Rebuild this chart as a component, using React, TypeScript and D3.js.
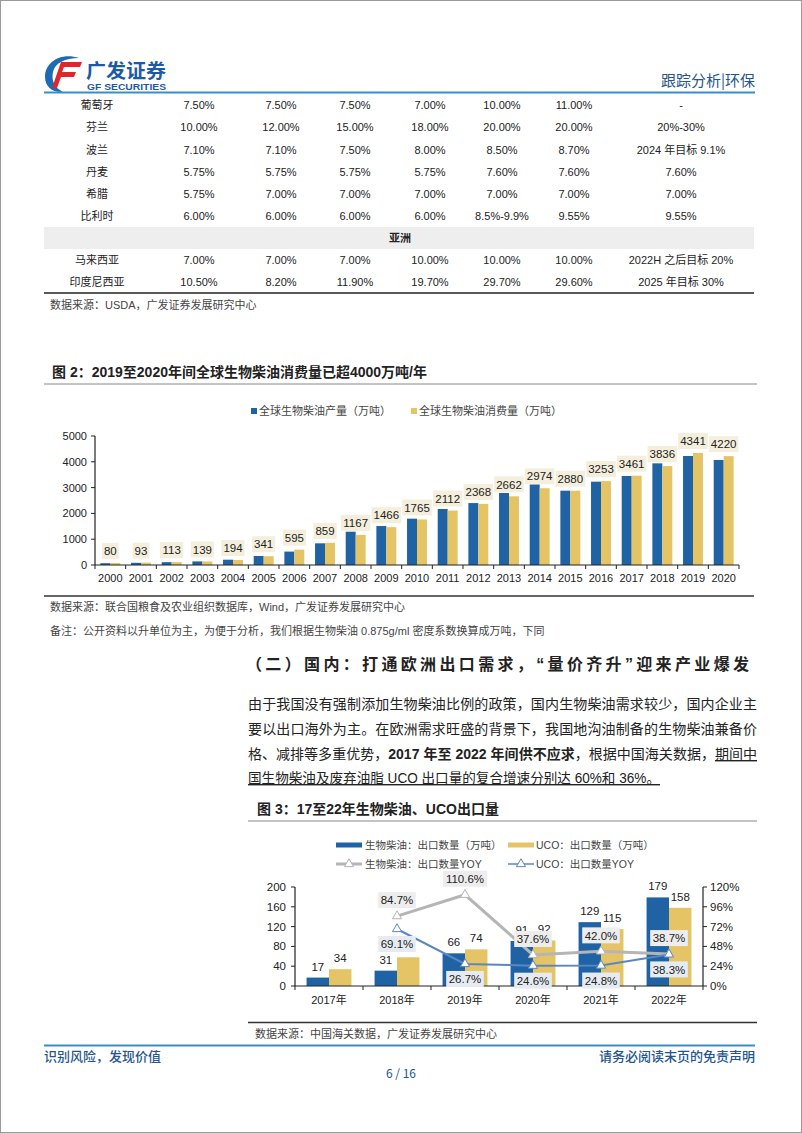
import React from 'react';
import * as d3 from 'd3';

const FONT = '"Liberation Sans", Arial, "Noto Sans CJK SC", sans-serif';
const CJK = '"Noto Sans CJK SC", "Liberation Sans", sans-serif';

// ---------- Table data ----------
const europeRows: string[][] = [
  ['葡萄牙', '7.50%', '7.50%', '7.50%', '7.00%', '10.00%', '11.00%', '-'],
  ['芬兰', '10.00%', '12.00%', '15.00%', '18.00%', '20.00%', '20.00%', '20%-30%'],
  ['波兰', '7.10%', '7.10%', '7.50%', '8.00%', '8.50%', '8.70%', '2024 年目标 9.1%'],
  ['丹麦', '5.75%', '5.75%', '5.75%', '5.75%', '7.60%', '7.60%', '7.60%'],
  ['希腊', '5.75%', '7.00%', '7.00%', '7.00%', '7.00%', '7.00%', '7.00%'],
  ['比利时', '6.00%', '6.00%', '6.00%', '6.00%', '8.5%-9.9%', '9.55%', '9.55%'],
];
const asiaHeader = '亚洲';
const asiaRows: string[][] = [
  ['马来西亚', '7.00%', '7.00%', '7.00%', '10.00%', '10.00%', '10.00%', '2022H 之后目标 20%'],
  ['印度尼西亚', '10.50%', '8.20%', '11.90%', '19.70%', '29.70%', '29.60%', '2025 年目标 30%'],
];

// ---------- Chart 2 data ----------
const years2 = ['2000', '2001', '2002', '2003', '2004', '2005', '2006', '2007', '2008', '2009', '2010',
  '2011', '2012', '2013', '2014', '2015', '2016', '2017', '2018', '2019', '2020'];
const production2 = [70, 85, 110, 140, 205, 350, 520, 840, 1290, 1510, 1795, 2170, 2400, 2790, 3125, 2880, 3230, 3450, 3940, 4225, 4070];
const consumption2 = [80, 93, 113, 139, 194, 341, 595, 859, 1167, 1466, 1765, 2112, 2368, 2662, 2974, 2880, 3253, 3461, 3836, 4341, 4220];
const yTicks2 = [0, 1000, 2000, 3000, 4000, 5000];
const legend2 = ['全球生物柴油产量（万吨）', '全球生物柴油消费量（万吨）'];

// ---------- Chart 3 data ----------
const cats3 = ['2017年', '2018年', '2019年', '2020年', '2021年', '2022年'];
const bioExport = [17, 31, 66, 91, 129, 179];
const ucoExport = [34, 58, 74, 92, 115, 158];
const bioYoy: (number | null)[] = [null, 84.7, 110.6, 37.6, 42.0, 38.7];
const ucoYoy: (number | null)[] = [null, 69.1, 26.7, 24.6, 24.8, 38.3];
const yTicks3L = [0, 40, 80, 120, 160, 200];
const yTicks3R = [0, 24, 48, 72, 96, 120];
const legend3 = ['生物柴油：出口数量（万吨）', 'UCO：出口数量（万吨）', '生物柴油：出口数量YOY', 'UCO：出口数量YOY'];

const BLUE = '#1f63a5';
const YELLOW = '#e5c466';
const GRAYLINE = '#b5b5b5';
const BLUELINE = '#5a87c4';
const HEADBLUE = '#3b8dc8';
const TEXTBLUE = '#24558f';

function textW(s: string, fs: number) {
  let w = 0;
  for (const ch of s) {
    if (/[0-9]/.test(ch)) w += 0.556;
    else if (ch === '.') w += 0.278;
    else if (ch === '%') w += 0.889;
    else if (ch === ' ') w += 0.278;
    else if (/[\u3000-\u9fff\uff00-\uffef]/.test(ch)) w += 1;
    else w += 0.65;
  }
  return w * fs;
}

function Header() {
  return (
    <g>
      <path d="M 79 58 C 62 52, 45 61, 45 77 C 45 87, 53 93, 63 92 C 55 88, 51 81, 53 72 C 55 63, 65 58, 79 58 Z" fill="#1d6bb5" />
      <path d="M 61 62 L 82 62 L 80 67 L 64 67 L 62 72 L 76 72 L 74 77 L 61 77 L 57 88 L 52 88 Z" fill="#e0262a" />
      <text x={86} y={78} fontFamily={CJK} fontSize={19} fontWeight="bold" fill="#1b5aa6" textLength={80} lengthAdjust="spacingAndGlyphs">广发证券</text>
      <text x={87} y={89.5} fontFamily={FONT} fontSize={9.5} fontWeight="bold" fill="#1b5aa6" textLength={79} lengthAdjust="spacingAndGlyphs">GF SECURITIES</text>
      <text x={755} y={86} textAnchor="end" fontFamily={CJK} fontSize={15} fill={TEXTBLUE}>跟踪分析|环保</text>
      <line x1={44} x2={755} y1={92.5} y2={92.5} stroke={HEADBLUE} strokeWidth={2} />
    </g>
  );
}

function Table() {
  const colX = [97, 199, 281, 355, 430, 502, 574, 681];
  const eY = [104.5, 127, 149.5, 171.5, 193.5, 215.5];
  const aY = [260, 282];
  const row = (r: string[], y: number, k: string) => (
    <g key={k}>
      {r.map((c, i) => (
        <text key={i} x={colX[i]} y={y + 4} textAnchor="middle" fontSize={11}
          fontFamily={i === 0 ? CJK : FONT} fill="#222">{c}</text>
      ))}
    </g>
  );
  return (
    <g>
      {europeRows.map((r, i) => row(r, eY[i], 'e' + i))}
      <rect x={44} y={227} width={710} height={22} fill="#eeeeee" />
      <text x={400} y={242} textAnchor="middle" fontFamily={CJK} fontSize={11} fontWeight="bold" fill="#222">{asiaHeader}</text>
      {asiaRows.map((r, i) => row(r, aY[i], 'a' + i))}
      <line x1={44} x2={754} y1={293} y2={293} stroke="#222" strokeWidth={1.5} />
      <text x={50} y={309} fontFamily={FONT} fontSize={11} fill="#444">数据来源：USDA，广发证券发展研究中心</text>
    </g>
  );
}

function Chart2() {
  const x0 = d3.scaleBand<string>().domain(years2).range([95, 739]).paddingInner(0.35).paddingOuter(0.175);
  const bw = x0.bandwidth();
  const step = x0.step();
  const x1 = d3.scaleBand<string>().domain(['p', 'c']).range([0, bw]);
  const y = d3.scaleLinear().domain([0, 5000]).range([565, 436]);
  const bounds = years2.map((yr) => (x0(yr) as number) - (step - bw) / 2);
  bounds.push(bounds[bounds.length - 1] + step);
  return (
    <g>
      <text x={52} y={377} fontFamily={FONT} fontSize={14} fontWeight="bold" fill="#222">图 2：2019至2020年间全球生物柴油消费量已超4000万吨/年</text>
      <line x1={44} x2={757} y1={384} y2={384} stroke="#888" strokeWidth={1} />
      {/* legend */}
      <rect x={251} y={408} width={6} height={6} fill={BLUE} />
      <text x={259} y={415} fontFamily={CJK} fontSize={11} fill="#444">{legend2[0]}</text>
      <rect x={411} y={408} width={6} height={6} fill={YELLOW} />
      <text x={419} y={415} fontFamily={CJK} fontSize={11} fill="#444">{legend2[1]}</text>
      {/* bars */}
      {years2.map((yr, i) => (
        <g key={yr}>
          <rect x={(x0(yr) as number) + (x1('p') as number)} y={y(production2[i])} width={x1.bandwidth()} height={565 - y(production2[i])} fill={BLUE} />
          <rect x={(x0(yr) as number) + (x1('c') as number)} y={y(consumption2[i])} width={x1.bandwidth()} height={565 - y(consumption2[i])} fill={YELLOW} />
        </g>
      ))}
      {/* labels */}
      {years2.map((yr, i) => {
        const cx = (x0(yr) as number) + bw / 2;
        const cy = y(consumption2[i]) - 12;
        const s = String(consumption2[i]);
        const w = textW(s, 11.5) + 4;
        return (
          <g key={'l' + yr}>
            <rect x={cx - w / 2} y={cy - 8} width={w} height={16} fill="#f4efdc" />
            <text x={cx} y={cy + 4.2} textAnchor="middle" fontSize={11.5} fill="#222">{s}</text>
          </g>
        );
      })}
      {/* axes */}
      <line x1={95} x2={95} y1={436} y2={565} stroke="#222" strokeWidth={1.2} />
      {yTicks2.map((t) => (
        <g key={t}>
          <line x1={91} x2={95} y1={y(t)} y2={y(t)} stroke="#222" />
          <text x={87} y={y(t) + 4} textAnchor="end" fontSize={11} fill="#222">{t}</text>
        </g>
      ))}
      <line x1={95} x2={739} y1={565} y2={565} stroke="#222" strokeWidth={1.2} />
      {bounds.map((b, i) => <line key={i} x1={b} x2={b} y1={565} y2={569} stroke="#222" />)}
      {years2.map((yr) => (
        <text key={'x' + yr} x={(x0(yr) as number) + bw / 2} y={582} textAnchor="middle" fontSize={11} fill="#222">{yr}</text>
      ))}
      <line x1={44} x2={754} y1={596} y2={596} stroke="#333" strokeWidth={1.5} />
      <text x={50} y={611} fontFamily={FONT} fontSize={11} fill="#444">数据来源：联合国粮食及农业组织数据库，Wind，广发证券发展研究中心</text>
      <text x={50} y={635} fontFamily={FONT} fontSize={11} fill="#444">备注：公开资料以升单位为主，为便于分析，我们根据生物柴油 0.875g/ml 密度系数换算成万吨，下同</text>
    </g>
  );
}

function TextBlock() {
  const fs = 14;
  const x = 248;
  return (
    <g fontFamily={FONT} fontSize={fs} fill="#222">
      <text x={246} y={670} fontSize={16} fontWeight="bold" textLength={503} lengthAdjust="spacing">（二）国内：打通欧洲出口需求，“量价齐升”迎来产业爆发</text>
      <text x={x} y={709} textLength={509} lengthAdjust="spacing">由于我国没有强制添加生物柴油比例的政策，国内生物柴油需求较少，国内企业主</text>
      <text x={x} y={734} textLength={509} lengthAdjust="spacing">要以出口海外为主。在欧洲需求旺盛的背景下，我国地沟油制备的生物柴油兼备价</text>
      <text x={x} y={759} textLength={509} lengthAdjust="spacing">
        <tspan>格、减排等多重优势，</tspan>
        <tspan fontWeight="bold">2017 年至 2022 年间供不应求</tspan>
        <tspan>，根据中国海关数据，</tspan>
        <tspan style={{ textDecoration: 'underline' }}>期间中</tspan>
      </text>
      <text x={x} y={783} textLength={412} lengthAdjust="spacingAndGlyphs">
        <tspan style={{ textDecoration: 'underline' }}>国生物柴油及废弃油脂 UCO 出口量的复合增速分别达 60%和 36%。</tspan>
      </text>
    </g>
  );
}

function Chart3() {
  const x = d3.scaleBand<string>().domain(cats3).range([295, 703]).paddingInner(0.34).paddingOuter(0.17);
  const bw = x.bandwidth();
  const step = x.step();
  const xs = d3.scaleBand<string>().domain(['b', 'u']).range([0, bw]);
  const yL = d3.scaleLinear().domain([0, 200]).range([986, 887]);
  const yR = d3.scaleLinear().domain([0, 120]).range([986, 887]);
  const cx = (c: string) => (x(c) as number) + bw / 2;
  const bounds = cats3.map((c) => (x(c) as number) - (step - bw) / 2);
  bounds.push(bounds[bounds.length - 1] + step);
  const line = d3.line<[string, number | null]>()
    .defined((d) => d[1] !== null)
    .x((d) => cx(d[0]))
    .y((d) => yR(d[1] as number));
  const bioPts = cats3.map((c, i) => [c, bioYoy[i]] as [string, number | null]);
  const ucoPts = cats3.map((c, i) => [c, ucoYoy[i]] as [string, number | null]);
  const tri = d3.symbol().type(d3.symbolTriangle).size(36)() as string;
  const labelBox = (v: number, px: number, py: number, fill: string, k: string) => {
    const s = v.toFixed(1) + '%';
    const w = textW(s, 11.5) + 5;
    return (
      <g key={k}>
        <rect x={px - w / 2} y={py - 8} width={w} height={16} fill={fill} />
        <text x={px} y={py + 4.2} textAnchor="middle" fontSize={11.5} fill="#222">{s}</text>
      </g>
    );
  };
  return (
    <g>
      <text x={257} y={814} fontFamily={FONT} fontSize={14} fontWeight="bold" fill="#222">图 3：17至22年生物柴油、UCO出口量</text>
      <line x1={248} x2={757} y1={821} y2={821} stroke="#888" strokeWidth={1} />
      {/* legend */}
      <rect x={336} y={842.5} width={26} height={5} fill={BLUE} />
      <text x={365} y={849} fontFamily={CJK} fontSize={10.5} fill="#444">{legend3[0]}</text>
      <rect x={508} y={842.5} width={26} height={5} fill={YELLOW} />
      <text x={536} y={849} fontFamily={FONT} fontSize={10.5} fill="#444">{legend3[1]}</text>
      <line x1={336} x2={362} y1={864} y2={864} stroke={GRAYLINE} strokeWidth={3} />
      <path d={tri} transform="translate(349,864)" fill="#fff" stroke={GRAYLINE} strokeWidth={1} />
      <text x={365} y={868} fontFamily={FONT} fontSize={10.5} fill="#444">{legend3[2]}</text>
      <line x1={508} x2={534} y1={864} y2={864} stroke={BLUELINE} strokeWidth={1.5} />
      <path d={tri} transform="translate(521,864)" fill="#fff" stroke={BLUELINE} strokeWidth={1} />
      <text x={536} y={868} fontFamily={FONT} fontSize={10.5} fill="#444">{legend3[3]}</text>
      {/* bars */}
      {cats3.map((c, i) => (
        <g key={c}>
          <rect x={(x(c) as number) + (xs('b') as number)} y={yL(bioExport[i])} width={xs.bandwidth()} height={986 - yL(bioExport[i])} fill={BLUE} />
          <rect x={(x(c) as number) + (xs('u') as number)} y={yL(ucoExport[i])} width={xs.bandwidth()} height={986 - yL(ucoExport[i])} fill={YELLOW} />
        </g>
      ))}
      {cats3.map((c, i) => (
        <g key={'bl' + c} fontSize={11.5} fill="#222" textAnchor="middle">
          <text x={(x(c) as number) + (xs('b') as number) + xs.bandwidth() / 2} y={yL(bioExport[i]) - 7}>{bioExport[i]}</text>
          <text x={(x(c) as number) + (xs('u') as number) + xs.bandwidth() / 2} y={yL(ucoExport[i]) - 7}>{ucoExport[i]}</text>
        </g>
      ))}
      {/* axes */}
      <line x1={295} x2={295} y1={887} y2={986} stroke="#222" strokeWidth={1.2} />
      <line x1={703} x2={703} y1={887} y2={986} stroke="#222" strokeWidth={1.2} />
      {yTicks3L.map((t) => (
        <g key={'L' + t}>
          <line x1={291} x2={295} y1={yL(t)} y2={yL(t)} stroke="#222" />
          <text x={286} y={yL(t) + 4} textAnchor="end" fontSize={11.5} fill="#222">{t}</text>
        </g>
      ))}
      {yTicks3R.map((t) => (
        <g key={'R' + t}>
          <line x1={703} x2={707} y1={yR(t)} y2={yR(t)} stroke="#222" />
          <text x={710} y={yR(t) + 4} fontSize={11.5} fill="#222">{t + '%'}</text>
        </g>
      ))}
      <line x1={295} x2={703} y1={986} y2={986} stroke="#222" strokeWidth={1.2} />
      {bounds.map((b, i) => <line key={i} x1={b} x2={b} y1={986} y2={990} stroke="#222" />)}
      {cats3.map((c) => (
        <text key={'x' + c} x={cx(c)} y={1004} textAnchor="middle" fontSize={11} fill="#222">{c}</text>
      ))}
      {/* lines */}
      <path d={line(bioPts) as string} fill="none" stroke={GRAYLINE} strokeWidth={3} />
      <path d={line(ucoPts) as string} fill="none" stroke={BLUELINE} strokeWidth={2} />
      {bioPts.filter((d) => d[1] !== null).map((d) => (
        <path key={'bm' + d[0]} d={tri} transform={`translate(${cx(d[0])},${yR(d[1] as number)})`} fill="#fff" stroke={GRAYLINE} strokeWidth={1} />
      ))}
      {ucoPts.filter((d) => d[1] !== null).map((d) => (
        <path key={'um' + d[0]} d={tri} transform={`translate(${cx(d[0])},${yR(d[1] as number)})`} fill="#fff" stroke={BLUELINE} strokeWidth={1} />
      ))}
      {bioPts.filter((d) => d[1] !== null).map((d) => labelBox(d[1] as number, cx(d[0]), yR(d[1] as number) - 16, '#ededed', 'bb' + d[0]))}
      {ucoPts.filter((d) => d[1] !== null).map((d) => labelBox(d[1] as number, cx(d[0]), yR(d[1] as number) + 15, '#e6ebf2', 'ub' + d[0]))}
      <line x1={248} x2={757} y1={1022.5} y2={1022.5} stroke="#333" strokeWidth={1.5} />
      <text x={255} y={1038} fontFamily={CJK} fontSize={11} fill="#444">数据来源：中国海关数据，广发证券发展研究中心</text>
    </g>
  );
}

function Footer() {
  return (
    <g>
      <line x1={44} x2={755} y1={1045.5} y2={1045.5} stroke={HEADBLUE} strokeWidth={2} />
      <text x={44} y={1061} fontFamily={CJK} fontSize={13} fontWeight="500" fill={TEXTBLUE}>识别风险，发现价值</text>
      <text x={755} y={1061} textAnchor="end" fontFamily={CJK} fontSize={13} fontWeight="500" fill={TEXTBLUE}>请务必阅读末页的免责声明</text>
      <text x={401} y={1078} textAnchor="middle" fontFamily={CJK} fontSize={12} fill={TEXTBLUE}>6 / 16</text>
    </g>
  );
}

export default function App() {
  return (
    <svg width={802} height={1133} viewBox="0 0 802 1133"
      style={{ position: 'absolute', left: 0, top: 0, background: '#fff' }} fontFamily={FONT}>
      <rect x={0.5} y={0.5} width={801} height={1132} fill="#fff" stroke="#9a9a9a" />
      <Header />
      <Table />
      <Chart2 />
      <TextBlock />
      <Chart3 />
      <Footer />
    </svg>
  );
}
